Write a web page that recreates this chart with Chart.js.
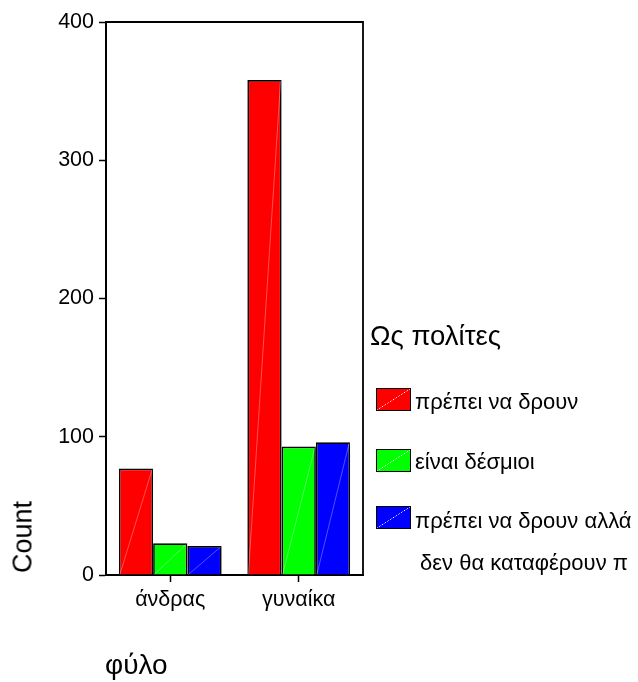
<!DOCTYPE html>
<html>
<head>
<meta charset="utf-8">
<script src="https://cdn.jsdelivr.net/npm/chart.js@4"></script>
<style>
  html, body { margin: 0; padding: 0; background: #fff; }
  #wrap { position: relative; width: 638px; height: 682px; font-family: "Liberation Sans", Arial, sans-serif; color: #000; }
  #chart { position: absolute; left: 0; top: 0; }
  .txt { position: absolute; white-space: nowrap; line-height: 1; }
  #ytitle { left: 23px; top: 537px; font-size: 27px; transform: translate(-50%, -50%) rotate(-90deg); }
  #xtitle { left: 105px; top: 651px; font-size: 28px; }
  #legend-title { left: 370px; top: 322px; font-size: 27.5px; }
  .leg-box { position: absolute; width: 33px; height: 21px; border: 1.5px solid #000; }
  .leg-text { position: absolute; font-size: 22px; line-height: 1; white-space: nowrap; }
</style>
</head>
<body>
<div id="wrap">
  <canvas id="chart" width="638" height="682"></canvas>
  <div class="txt" id="ytitle">Count</div>
  <div class="txt" id="xtitle">φύλο</div>
  <div class="txt" id="legend-title">Ως πολίτες</div>
  <div id="legend"></div>
</div>
<script>
// κατηγορίες και τιμές
const categories = ['άνδρας', 'γυναίκα'];
const seriesNames = ['πρέπει να δρουν', 'είναι δέσμιοι', 'πρέπει να δρουν αλλά|δεν θα καταφέρουν π'];
const mustAct = [77, 358];
const bound = [23, 93];
const mustActButFail = [21, 96];
const yTicks = [0, 100, 200, 300, 400];
const colors = ['#ff0000', '#00ff00', '#0000ff'];

const seriesValues = [mustAct, bound, mustActButFail];

// λεπτή λευκή διαγώνιος σε κάθε μπάρα (όπως στο SPSS)
const diagonalPlugin = {
  id: 'diagonal',
  afterDatasetsDraw(chart) {
    const ctx = chart.ctx;
    ctx.save();
    ctx.strokeStyle = 'rgba(255,255,255,0.45)';
    ctx.lineWidth = 0.7;
    chart.data.datasets.forEach((ds, i) => {
      chart.getDatasetMeta(i).data.forEach(bar => {
        const left = bar.x - bar.width / 2;
        const right = bar.x + bar.width / 2;
        ctx.beginPath();
        ctx.moveTo(left + 1, bar.base);
        ctx.lineTo(right - 1, bar.y + 1);
        ctx.stroke();
      });
    });
    ctx.restore();
  }
};

// πλαίσιο γύρω από την περιοχή του γραφήματος
const framePlugin = {
  id: 'frame',
  afterDraw(chart) {
    const a = chart.chartArea;
    const ctx = chart.ctx;
    ctx.save();
    ctx.strokeStyle = '#000';
    ctx.lineWidth = 1.8;
    ctx.beginPath();
    ctx.moveTo(a.left, a.top);
    ctx.lineTo(a.right, a.top);
    ctx.lineTo(a.right, a.bottom);
    ctx.stroke();
    ctx.restore();
  }
};

const ctx = document.getElementById('chart').getContext('2d');
new Chart(ctx, {
  type: 'bar',
  data: {
    labels: categories,
    datasets: seriesValues.map((vals, i) => ({
      label: seriesNames[i],
      data: vals,
      backgroundColor: colors[i],
      borderColor: '#000',
      borderWidth: 1.7,
      borderSkipped: 'start',
      categoryPercentage: 0.8,
      barPercentage: 1.0
    }))
  },
  options: {
    responsive: false,
    animation: false,
    layout: { padding: { top: 22, right: 275, left: 0, bottom: 0 } },
    plugins: {
      legend: { display: false },
      tooltip: { enabled: false }
    },
    scales: {
      y: {
        min: 0,
        max: 400,
        afterFit(scale) { scale.width = 106; },
        afterBuildTicks(scale) { scale.ticks = yTicks.map(v => ({ value: v })); },
        ticks: {
          color: '#000',
          padding: 5,
          font: { family: 'Liberation Sans', size: 21.5 }
        },
        grid: { drawOnChartArea: false, drawTicks: true, tickLength: 7, tickColor: '#000', tickWidth: 1.5 },
        border: { display: true, color: '#000', width: 2 }
      },
      x: {
        afterFit(scale) { scale.height = 107; },
        ticks: {
          color: '#000',
          padding: 5,
          font: { family: 'Liberation Sans', size: 21.5 }
        },
        grid: { offset: false, drawOnChartArea: false, drawTicks: true, tickLength: 7, tickColor: '#000', tickWidth: 1.5 },
        border: { display: true, color: '#000', width: 2 }
      }
    }
  },
  plugins: [diagonalPlugin, framePlugin]
});

// υπόμνημα
const legendTops = [388, 449, 506];
const legendTextTops = [391, 451, 510];
const legend = document.getElementById('legend');
seriesNames.forEach((name, i) => {
  const box = document.createElement('div');
  box.className = 'leg-box';
  box.style.left = '376px';
  box.style.top = legendTops[i] + 'px';
  box.style.background = 'linear-gradient(to bottom right, ' + colors[i] + ' 49%, rgba(255,255,255,0.55) 50%, ' + colors[i] + ' 51%)';
  legend.appendChild(box);
  const lines = name.split('|');
  lines.forEach((line, j) => {
    const t = document.createElement('div');
    t.className = 'leg-text';
    t.textContent = line;
    t.style.left = (j === 0 ? 415 : 420) + 'px';
    t.style.top = (legendTextTops[i] + j * 42) + 'px';
    legend.appendChild(t);
  });
});
</script>
</body>
</html>
